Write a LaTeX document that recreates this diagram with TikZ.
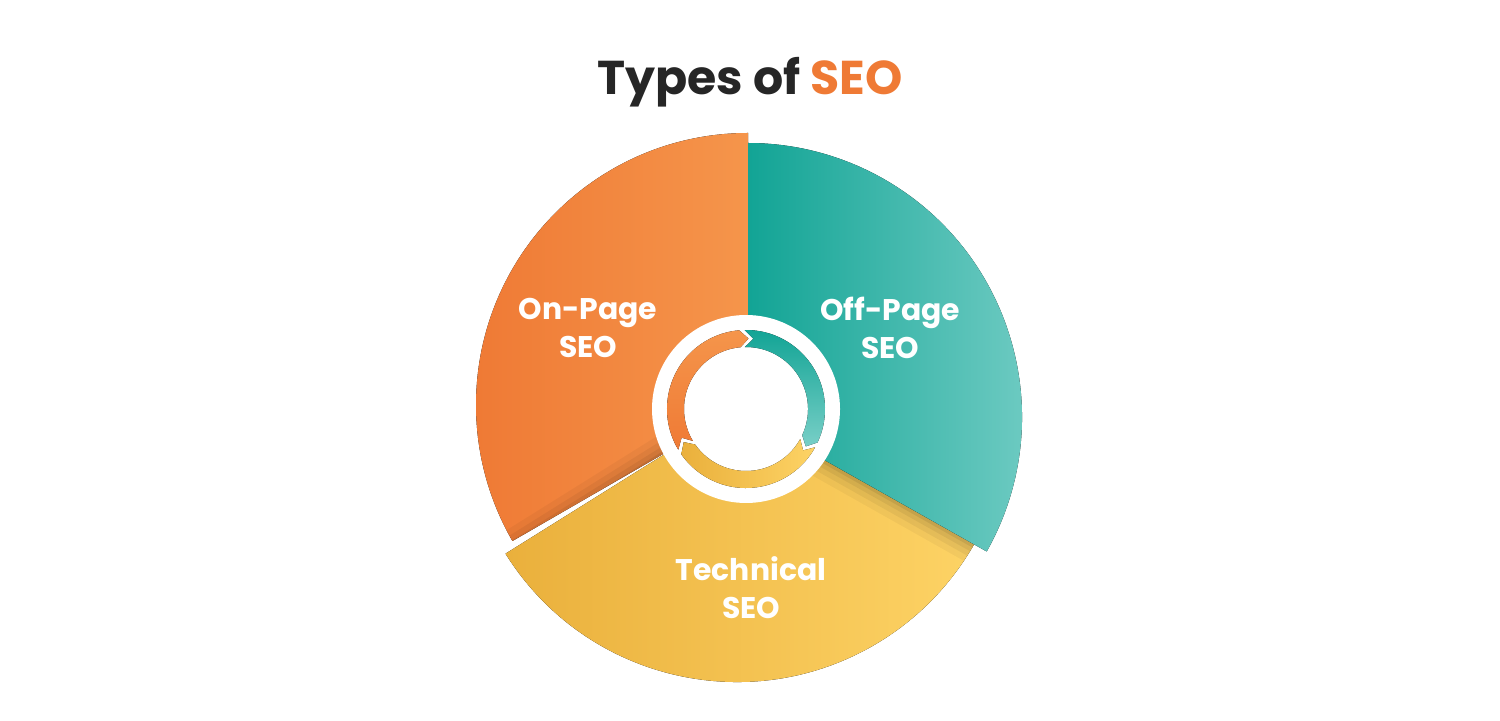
\documentclass[tikz,border=0pt]{standalone}
\usepackage{fontspec}
\setmainfont{Poppins}
\usepackage{xcolor}
\usepackage{tikz}
\definecolor{seoorange}{HTML}{EF7A35}
\definecolor{seoorangelight}{HTML}{F5954B}
\definecolor{seoteal}{HTML}{12A495}
\definecolor{seotealight}{HTML}{78CFC7}
\definecolor{seoyellow}{HTML}{EAB03C}
\definecolor{seoyellowlight}{HTML}{FDD365}
\definecolor{seoblack}{HTML}{262626}
\newcommand{\slice}[5]{\fill[#1] (#2) -- ++(#4:#3) arc[start angle=#4, end angle=#5, radius=#3] -- cycle}
\newcommand{\ringarrow}[2]{\fill[#1] (#2+123:79) arc[start angle=#2+123, end angle=#2+7, radius=79] -- (#2:70.5) -- (#2+7:62) arc[start angle=#2+7, end angle=#2+123, radius=62] -- (#2+116:70.5) -- cycle}

\begin{document}
\begin{tikzpicture}[x=0.02cm,y=0.02cm,
    seolabel/.style={text=white, align=center, font=\fontsize{17}{21.6}\selectfont\bfseries}]
    \useasboundingbox (0,0) rectangle (1500,720);
    \coordinate (hub) at (746,311);

    \slice{left color=seoorange, right color=seoorangelight}{748,315}{272}{90}{210};
    % shade where the yellow part lies on the orange one
    \begin{scope}
      \clip (748,315) -- ++(90:272) arc[start angle=90, end angle=210, radius=272] -- cycle;
      \foreach \w/\o in {22pt/0.04, 15pt/0.05, 9pt/0.06, 4pt/0.08}
        \draw[black, opacity=\o, line width=\w] (737,311) -- ++(212:300);
    \end{scope}
    \slice{left color=seoyellow, right color=seoyellowlight}{737,311}{273}{212}{330.6};
    \begin{scope}
      \clip (737,311) -- ++(212:273) arc[start angle=212, end angle=330.6, radius=273] -- cycle;
      \foreach \w/\o in {22pt/0.04, 15pt/0.05, 9pt/0.06, 4pt/0.08}
        \draw[black, opacity=\o, line width=\w] (748,303) -- ++(-29.4:300);
    \end{scope}
    \slice{left color=seoteal, right color=seotealight}{748,303}{274}{-29.4}{90};

    \fill[white] (hub) circle[radius=94];
    \begin{scope}[shift={(hub)}]
      \ringarrow{bottom color=seoorange, top color=seoorangelight}{88};
      \ringarrow{top color=seoteal, bottom color=seotealight}{-32};
      \ringarrow{left color=seoyellow, right color=seoyellowlight}{208};
    \end{scope}

    \node[seolabel] (onpage) at (588,392) {On-Page\\SEO};
    \node[seolabel] (offpage) at (890,392) {Off-Page\\SEO};
    \node[seolabel] (technical) at (751,132) {Technical\\SEO};

    \node[anchor=base, text=seoblack, font=\fontsize{27}{32}\selectfont\bfseries] (title) at (750,625) {Types of \textcolor{seoorange}{SEO}};
\end{tikzpicture}
\end{document}
